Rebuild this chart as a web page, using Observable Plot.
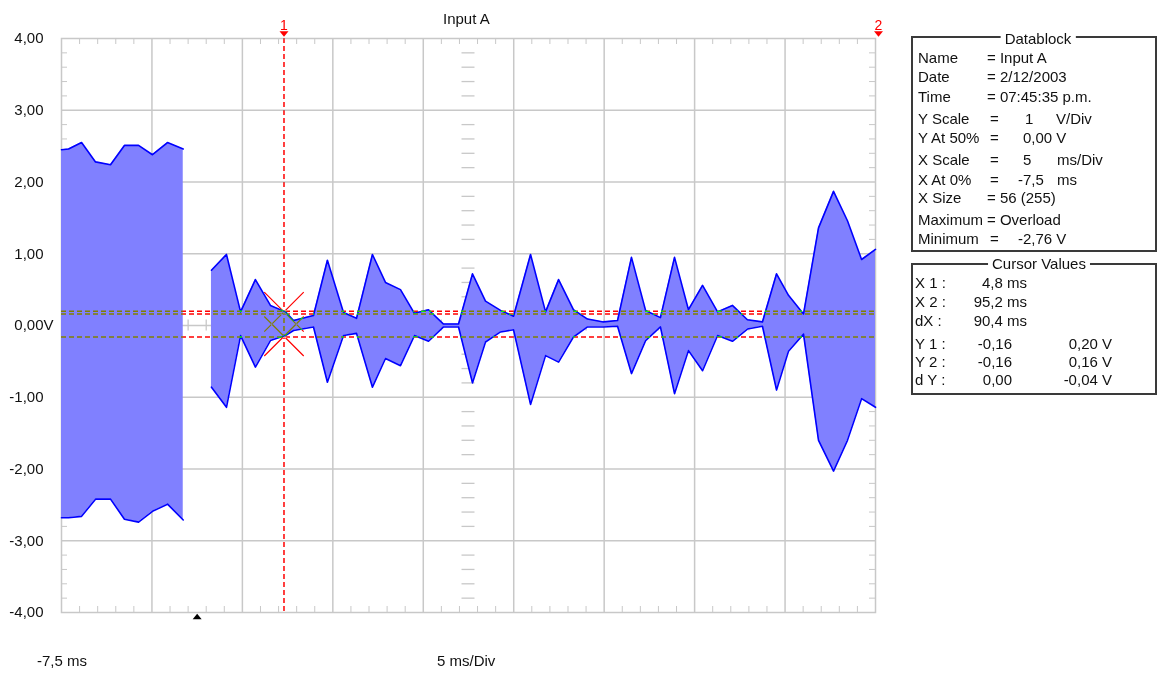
<!DOCTYPE html>
<html><head><meta charset="utf-8">
<script src="https://cdn.jsdelivr.net/npm/d3@7"></script>
<script src="https://cdn.jsdelivr.net/npm/@observablehq/plot@0.6"></script>
<style>
html,body{margin:0;padding:0;background:#fff;}
#wrap{position:relative;width:1159px;height:673px;overflow:hidden;}
#wrap svg{position:absolute;left:0;top:0;}
</style></head><body><div id="wrap"></div>
<script>
// ---------------- data ----------------
// segment 1 (before the trigger gap): time in ms, envelope max / min in volts
const seg1Time = [-7.50, -7.11, -6.39, -5.62, -4.79, -4.02, -3.24, -2.47, -1.64, -0.77];
const seg1Max  = [2.45, 2.46, 2.55, 2.28, 2.24, 2.51, 2.51, 2.38, 2.55, 2.46];
const seg1Min  = [-2.68, -2.68, -2.66, -2.42, -2.42, -2.70, -2.74, -2.59, -2.49, -2.71];
// segment 2
const seg2Time = [0.79, 1.62, 2.40, 3.22, 4.05, 4.88, 5.33, 6.43, 7.20, 8.09, 8.81, 9.69, 10.41, 11.24, 12.01, 12.79,
  13.62, 14.45, 15.22, 15.94, 16.77, 17.49, 18.43, 19.26, 19.98, 20.80, 21.58, 22.46, 23.24, 24.01, 24.79, 25.61,
  26.39, 27.16, 27.94, 28.77, 29.59, 30.42, 31.25, 32.03, 32.69, 33.52, 34.35, 35.18, 35.95, 36.73, 37.50];
const seg2Max = [0.77, 0.99, 0.19, 0.64, 0.28, 0.19, 0.07, 0.14, 0.91, 0.18, 0.10, 0.99, 0.60, 0.50, 0.17, 0.22,
  0.02, 0.02, 0.72, 0.34, 0.21, 0.13, 0.99, 0.19, 0.64, 0.22, 0.09, 0.05, 0.07, 0.95, 0.21, 0.11,
  0.95, 0.22, 0.56, 0.19, 0.28, 0.08, 0.05, 0.72, 0.42, 0.16, 1.36, 1.87, 1.46, 0.92, 1.06];
const seg2Min = [-0.86, -1.14, -0.14, -0.58, -0.21, -0.14, -0.07, -0.02, -0.79, -0.14, -0.11, -0.86, -0.46, -0.56, -0.14, -0.22,
  -0.02, -0.02, -0.80, -0.23, -0.09, -0.06, -1.10, -0.42, -0.51, -0.16, -0.02, -0.02, -0.01, -0.67, -0.21, -0.02,
  -0.95, -0.35, -0.63, -0.14, -0.22, -0.05, -0.01, -0.90, -0.36, -0.12, -1.60, -2.03, -1.60, -1.02, -1.14];

const yTickValues = [4, 3, 2, 1, 0, -1, -2, -3, -4];
const yTickLabels = ["4,00", "3,00", "2,00", "1,00", "0,00V", "-1,00", "-2,00", "-3,00", "-4,00"];
const xDomain = [-7.5, 37.5];          // X At 0% = -7,5 ms, 5 ms/Div, 9 div
const yDomain = [-4, 4];               // 1 V/Div

const cursorLabels = ["1", "2"];
const cursorShownX = [4.8, 37.5];      // cursor 2 (95,2 ms) is pinned at the right edge
const hCursorY = [0.20, 0.16, -0.16];
const crossY = [0.19, -0.15];          // trace values at cursor 1
const triggerX = [0];

// ---------------- derived tables ----------------
const wave = [
  ...seg1Time.map((t, i) => ({seg: 1, t, hi: seg1Max[i], lo: seg1Min[i]})),
  ...seg2Time.map((t, i) => ({seg: 2, t, hi: seg2Max[i], lo: seg2Min[i]}))
];
const xMajor = d3.range(1, 9).map(k => xDomain[0] + 5 * k);
const xMinor = d3.range(1, 45).filter(k => k % 5 !== 0).map(k => xDomain[0] + k);
const xCenter = d3.range(1, 45).map(k => xDomain[0] + k);
const yMajor = [-3, -2, -1, 0, 1, 2, 3];
const yMinor = d3.range(-40, 41, 2).filter(k => k % 10 !== 0).map(k => k / 10);
const xMid = (xDomain[0] + xDomain[1]) / 2;

const FONT = "'Liberation Sans', Arial, sans-serif";
const grid = "#c8c8c8";
const xor = {stroke: "#00ffff", mixBlendMode: "difference", ariaLabel: "xor"};
const triDown = {draw(ctx, size) { const s = Math.sqrt(size / Math.PI); ctx.moveTo(-s, -0.6 * s); ctx.lineTo(s, -0.6 * s); ctx.lineTo(0, 0.6 * s); ctx.closePath(); }};
const triUp = {draw(ctx, size) { const s = Math.sqrt(size / Math.PI); ctx.moveTo(-s, 0.6 * s); ctx.lineTo(s, 0.6 * s); ctx.lineTo(0, -0.6 * s); ctx.closePath(); }};

function cursorMarker(i, dx) {
  return [
    Plot.text([cursorLabels[i]], {x: () => cursorShownX[i], text: d => d, frameAnchor: "top", lineAnchor: "middle", dy: -13, dx, fill: "#ff0000", fontSize: 14}),
    Plot.dot([cursorShownX[i]], {x: d => d, frameAnchor: "top", dy: -4.5, dx, symbol: triDown, r: 4.5, fill: "#ff0000", stroke: "none"})
  ];
}

const plot = Plot.plot({
  width: 1159, height: 673,
  marginLeft: 61, marginRight: 284, marginTop: 38, marginBottom: 61,
  style: {fontFamily: FONT, fontSize: "15px", background: "white", overflow: "visible"},
  x: {domain: xDomain, axis: null},
  y: {domain: yDomain, axis: null},
  marks: [
    Plot.frame({fill: "white"}),
    Plot.ruleX(xMajor, {stroke: grid, strokeWidth: 1.5}),
    Plot.ruleY(yMajor, {stroke: grid, strokeWidth: 1.5}),
    Plot.frame({stroke: grid, strokeWidth: 1.5}),
    Plot.ruleX(xMinor, {x: d => d, y1: yDomain[1], y2: yDomain[1], insetBottom: -6, stroke: grid}),
    Plot.ruleX(xMinor, {x: d => d, y1: yDomain[0], y2: yDomain[0], insetTop: -6, stroke: grid}),
    Plot.ruleY(yMinor, {y: d => d, x1: xDomain[0], x2: xDomain[0], insetRight: -6, stroke: grid}),
    Plot.ruleY(yMinor, {y: d => d, x1: xDomain[1], x2: xDomain[1], insetLeft: -6, stroke: grid}),
    Plot.ruleY(yMinor, {y: d => d, x1: xMid, x2: xMid, insetLeft: -6.5, insetRight: -6.5, stroke: grid, strokeWidth: 1.3}),
    Plot.ruleX(xCenter, {x: d => d, y1: 0, y2: 0, insetTop: -5.5, insetBottom: -5.5, stroke: grid, strokeWidth: 1.3}),
    Plot.areaY(wave, {x: "t", y1: "lo", y2: "hi", z: "seg", fill: "#8080ff"}),
    Plot.line(wave, {x: "t", y: "hi", z: "seg", stroke: "#0000ff", strokeWidth: 1.6}),
    Plot.line(wave, {x: "t", y: "lo", z: "seg", stroke: "#0000ff", strokeWidth: 1.6}),
    Plot.ruleY(hCursorY, {y: d => d, strokeDasharray: "5,3", strokeWidth: 1.5, ...xor}),
    Plot.ruleX([cursorShownX[0]], {x: d => d, strokeDasharray: "5,3", strokeWidth: 1.5, ...xor}),
    Plot.dot(crossY, {x: cursorShownX[0], y: d => d, symbol: "times", r: 18, strokeWidth: 1.2, ...xor}),
    ...cursorMarker(0, 0),
    ...cursorMarker(1, 3),
    Plot.dot(triggerX, {x: d => d, frameAnchor: "bottom", dy: 4, symbol: triUp, r: 4.5, fill: "#000", stroke: "none"}),
    Plot.text(yTickValues.filter(v => v !== 0), {x: xDomain[0], y: d => d, text: d => yTickLabels[yTickValues.indexOf(d)], textAnchor: "end", dx: -18, fill: "#111"}),
    Plot.text([0], {x: xDomain[0], y: d => d, text: d => yTickLabels[yTickValues.indexOf(d)], textAnchor: "end", dx: -8, fill: "#111"})
  ]
});
plot.querySelectorAll('[aria-label="xor"]').forEach(g => g.style.mixBlendMode = "difference");
const wrap = document.getElementById("wrap");
wrap.appendChild(plot);

// ---------------- overlay texts (title, datablock, footer) ----------------
const ov = d3.select(wrap).append("svg").attr("width", 1159).attr("height", 673)
  .style("pointer-events", "none").attr("font-family", FONT).attr("font-size", 15).attr("fill", "#111");
function txt(x, y, s, anchor = "start", extra = {}) {
  const el = ov.append("text").attr("x", x).attr("y", y).attr("text-anchor", anchor).text(s);
  for (const k in extra) el.attr(k, extra[k]);
  return el;
}
txt(443, 23.5, "Input A");
txt(37, 666, "-7,5 ms");
txt(437, 666, "5 ms/Div");

function box(x, y, w, h, title, cx, ty) {
  ov.append("rect").attr("x", x).attr("y", y).attr("width", w).attr("height", h)
    .attr("fill", "none").attr("stroke", "#3a3a3a").attr("stroke-width", 2);
  const t = txt(cx, ty, title, "middle");
  const b = t.node().getBBox();
  ov.insert("rect", () => t.node()).attr("x", b.x - 4).attr("y", b.y).attr("width", b.width + 8).attr("height", b.height).attr("fill", "#fff");
}
box(912, 37, 244, 214, "Datablock", 1038, 43.5);
box(912, 264, 244, 130, "Cursor Values", 1039, 269.3);

const dbRows = [
  ["Name", 62.7, [[987, "= Input A"]]],
  ["Date", 82.3, [[987, "= 2/12/2003"]]],
  ["Time", 101.6, [[987, "= 07:45:35 p.m."]]],
  ["Y Scale", 124, [[990, "="], [1025, "1"], [1056, "V/Div"]]],
  ["Y At 50%", 142.7, [[990, "="], [1023, "0,00 V"]]],
  ["X Scale", 165, [[990, "="], [1023, "5"], [1057, "ms/Div"]]],
  ["X At 0%", 185, [[990, "="], [1018, "-7,5"], [1057, "ms"]]],
  ["X Size", 203.3, [[987, "= 56 (255)"]]],
  ["Maximum", 225, [[987, "= Overload"]]],
  ["Minimum", 244, [[990, "="], [1018, "-2,76 V"]]]
];
for (const [label, y, parts] of dbRows) {
  txt(918, y, label);
  for (const [x, s] of parts) txt(x, y, s);
}
const cvRows = [
  ["X 1 :", 288, [[1027, "4,8 ms"]]],
  ["X 2 :", 307.3, [[1027, "95,2 ms"]]],
  ["dX :", 326, [[1027, "90,4 ms"]]],
  ["Y 1 :", 349.3, [[1012, "-0,16"], [1112, "0,20 V"]]],
  ["Y 2 :", 367.3, [[1012, "-0,16"], [1112, "0,16 V"]]],
  ["d Y :", 385, [[1012, "0,00"], [1112, "-0,04 V"]]]
];
for (const [label, y, parts] of cvRows) {
  txt(915, y, label);
  for (const [x, s] of parts) txt(x, y, s, "end");
}
</script></body></html>
